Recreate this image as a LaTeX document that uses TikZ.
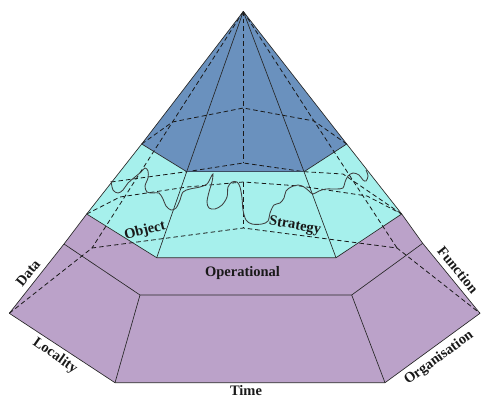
\documentclass[tikz,border=0pt]{standalone}
\usepackage{fontspec}
\setmainfont{Liberation Serif}
\definecolor{blueC}{RGB}{106,145,190}
\definecolor{cyanC}{RGB}{166,240,236}
\definecolor{purpC}{RGB}{187,162,201}
\definecolor{rimC}{RGB}{60,78,98}
\begin{document}
\begin{tikzpicture}[x=1pt,y=-1pt,
  edge/.style={draw=black!85, line width=0.65pt, line join=round},
  hid/.style={draw=black!90, line width=0.8pt, dash pattern=on 4.5pt off 3pt},
  wavy/.style={draw=black!75, line width=0.85pt},
  lbl/.style={font=\fontsize{14.5}{17}\selectfont\bfseries, inner sep=0pt, text=black!90}]
\useasboundingbox (0,0) rectangle (481,398);
% visible vertices
\coordinate (A) at (243.3,11.5);
\coordinate (L) at (141.7,144);
\coordinate (R) at (346.7,144);
\coordinate (FL) at (186.7,171.7);
\coordinate (FR) at (304,171.7);
\coordinate (C1) at (86.7,214);
\coordinate (C2) at (401.7,214);
\coordinate (C3) at (156.7,257.7);
\coordinate (C4) at (336,257.7);
\coordinate (PTL) at (64,244);
\coordinate (PL) at (9.3,313.3);
\coordinate (PBL) at (115,382.7);
\coordinate (PBR) at (385,382.7);
\coordinate (PR) at (480,313.3);
\coordinate (PTR) at (422.7,243.3);
\coordinate (FTL) at (140,295);
\coordinate (FTR) at (351.7,295);
% hidden vertices
\coordinate (BL1) at (172.5,122);
\coordinate (B1) at (243.3,108);
\coordinate (BR1) at (314,121);
\coordinate (BL2) at (92,248);
\coordinate (B2) at (243.3,228);
\coordinate (BR2) at (397,248);
\coordinate (Vb) at (243.3,163);
\coordinate (Lb) at (243.3,182);
\coordinate (Wl) at (111,182);
\coordinate (U2) at (343,174);
\coordinate (D1) at (120,197);
\coordinate (D2) at (187,187);
\coordinate (D3) at (300,186);
\coordinate (D4) at (367,196);
% fills
\fill[purpC] (C1)--(PTL)--(PL)--(PBL)--(PBR)--(PR)--(PTR)--(C2)--(C4)--(C3)--cycle;
\fill[cyanC] (L)--(C1)--(C3)--(C4)--(C2)--(R)--(FR)--(FL)--cycle;
\fill[blueC] (A)--(L)--(FL)--(FR)--(R)--cycle;
% purple edges
\draw[edge] (C1)--(PTL)--(PL)--(PBL)--(PBR)--(PR)--(PTR)--(C2);
\draw[edge] (PTL)--(FTL)--(FTR)--(PTR);
\draw[edge] (FTL)--(PBL);
\draw[edge] (FTR)--(PBR);
% hidden edges
\draw[hid] (A)--(B1)--(Vb);
\draw[hid] (A)--(BL1)--(BL2);
\draw[hid] (A)--(BR1)--(BR2);
\draw[hid] (L)--(BL1)--(B1)--(BR1)--(R);
\draw[hid] (Wl)--(FL)--(Vb)--(FR)--(U2)--(C2);
\draw[hid] (C1)--(D1)--(D2)--(Lb)--(D3)--(D4)--(C2);
\draw[hid] (Lb)--(B2);
\draw[hid] (PL)--(BL2)--(B2)--(BR2)--(PR);
% cyan and blue edges
\draw[edge] (L)--(C1)--(C3)--(C4)--(C2)--(R);
\draw[edge] (FL)--(C3);
\draw[edge] (FR)--(C4);
\draw[edge] (A)--(L)--(FL);
\draw[edge] (FR)--(R)--(A);
\draw[edge] (A)--(FL);
\draw[edge] (A)--(FR);
\draw[draw=rimC, line width=1.1pt] (FL)--(FR);
% wavy boundary
\draw[wavy] plot[smooth, tension=0.55] coordinates {
(111,181) (113,190) (118,193) (123,190) (128,183) (135,177) (141,172) (145,168)
(148,171) (148,178) (145,186) (147,192) (153,193) (159,193) (163,199) (166,206)
(171,210) (176,208) (180,200) (183,192) (190,189) (200,187) (207,184) (211,177)
(213,174) (212,182) (209,192) (207,202) (209,208) (215,209) (222,205) (227,197)
(228,187) (232,182) (237,182) (240,187) (242,198) (243,210) (246,220) (252,224)
(262,224) (268,221) (270,213) (274,205) (280,203) (284,198) (286,191) (291,187)
(298,185) (304,187) (309,191) (313,194) (319,191) (326,189) (336,189) (343,188)
(345,182) (348,176) (353,173) (359,175) (363,180) (366,181) (368,176) (366,170)};
% labels
\node[lbl] (op) at (242.5,273) {Operational};
\node[lbl] (time) at (246,391) {Time};
\node[lbl, rotate=-35] (loc) at (55,356) {Locality};
\node[lbl, rotate=36] (org) at (439,358) {Organisation};
\node[lbl, rotate=51] (data) at (28,273) {Data};
\node[lbl, rotate=-51] (func) at (458,270) {Function};
\node[lbl, rotate=14] (obj) at (145,231) {Object};
\node[lbl, rotate=-10] (str) at (295,226) {Strategy};
\end{tikzpicture}
\end{document}
